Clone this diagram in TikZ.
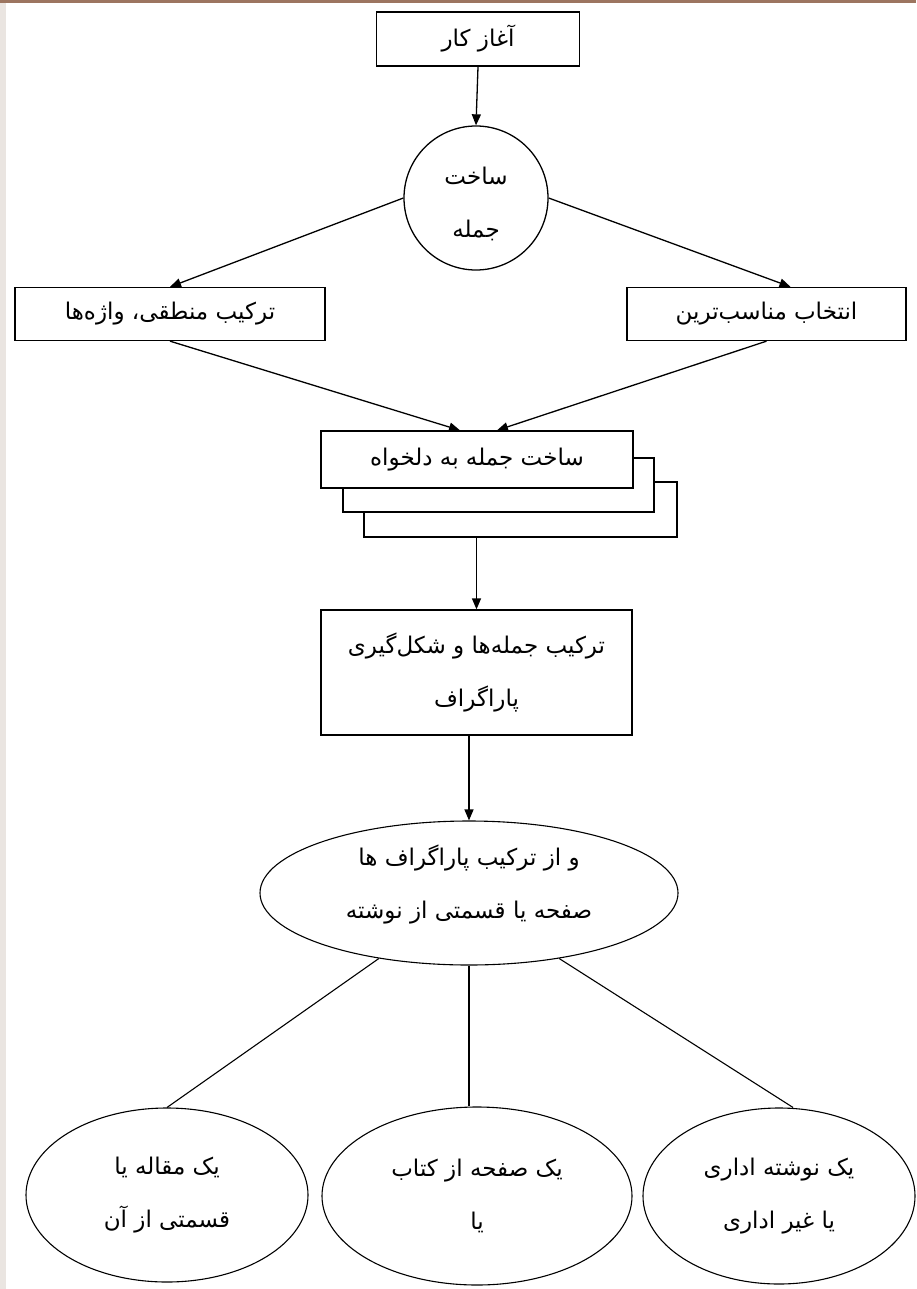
\documentclass[tikz,border=0pt]{standalone}
\usepackage{fontspec}
\usetikzlibrary{arrows.meta,shapes.geometric,calc}
\TeXXeTstate=1
\newfontfamily\arabicfont[Script=Arabic]{DejaVu Sans}
\definecolor{topbar}{HTML}{9C7560}
\definecolor{sidebar}{HTML}{EAE5E1}
\newcommand{\fa}[1]{\beginR #1\endR}
\newcommand{\persiantext}{\arabicfont\fontsize{23}{53}\selectfont}
\tikzset{
  boxnode/.style={draw, line width=1.3pt, fill=white, inner sep=0pt, align=center, font=\persiantext},
  circnode/.style={boxnode, circle},
  ellnode/.style={boxnode, ellipse, line width=1.1pt},
  arr/.style={line width=1.3pt, -{Triangle[length=11pt,width=9pt]}},
  ln/.style={line width=1.1pt},
}
\begin{document}
\begin{tikzpicture}[x=1pt,y=-1pt]
\useasboundingbox (0,0) rectangle (916,1289);
\fill[white] (0,0) rectangle (916,1289);
\fill[sidebar] (0,0) rectangle (6,1289);
\fill[topbar] (0,0) rectangle (916,3.5);

\node[boxnode, minimum width=203, minimum height=54] (start) at (478,39) {\beginR آغاز کار\endR};
\node[circnode, minimum size=144] (sent) at (476,198) {\raisebox{-13pt}[0pt][0pt]{\beginR ساخت\endR}\\\raisebox{-13pt}[0pt][0pt]{\beginR جمله\endR}};
\node[boxnode, minimum width=310, minimum height=53] (logic) at (170,314) {\beginR ترکیب منطقی، واژه‌ها\endR};
\node[boxnode, minimum width=279, minimum height=53] (choose) at (766.5,314) {\beginR انتخاب مناسب‌ترین\endR};

\node[boxnode, minimum width=313, minimum height=55] (s3) at (520.5,509.5) {};
\node[boxnode, minimum width=311, minimum height=54] (s2) at (498.5,485) {};
\node[boxnode, minimum width=312, minimum height=57] (s1) at (477,459.5) {\beginR ساخت جمله به دلخواه\endR};

\node[boxnode, minimum width=311, minimum height=125] (para) at (476.5,672.5) {\beginR ترکیب جمله‌ها و شکل‌گیری\endR\\\beginR پاراگراف\endR};
\node[ellnode, minimum width=418, minimum height=144] (whole) at (469,893) {\raisebox{1.5pt}[0pt][0pt]{\beginR و از ترکیب پاراگراف ها\endR}\\\raisebox{1.5pt}[0pt][0pt]{\beginR صفحه یا قسمتی از نوشته\endR}};

\node[ellnode, minimum width=282, minimum height=174] (art) at (167,1195) {\beginR یک مقاله یا\endR\\\beginR قسمتی از آن\endR};
\node[ellnode, minimum width=310, minimum height=178] (book) at (477,1196) {\beginR یک صفحه از کتاب\endR\\\beginR یا\endR};
\node[ellnode, minimum width=272, minimum height=176] (office) at (779,1196) {\beginR یک نوشته اداری\endR\\\beginR یا غیر اداری\endR};

\draw[arr] (start.south) -- (sent.north);
\draw[arr] (sent.west) -- (logic.north);
\draw[arr] (sent.east) -- ([xshift=24]choose.north);
\draw[arr] (logic.south) -- ([xshift=-17]s1.north);
\draw[arr] (choose.south) -- ([xshift=20]s1.north);
\draw[arr] (para.north |- s3.south) -- (para.north);
\draw[arr] (whole.north |- para.south) -- (whole.north);
\draw[ln] (whole.216) -- (art.north);
\draw[ln] (whole.south) -- (whole.south |- book.north);
\draw[ln] (whole.-36) -- ([xshift=14]office.north);
\end{tikzpicture}
\end{document}
